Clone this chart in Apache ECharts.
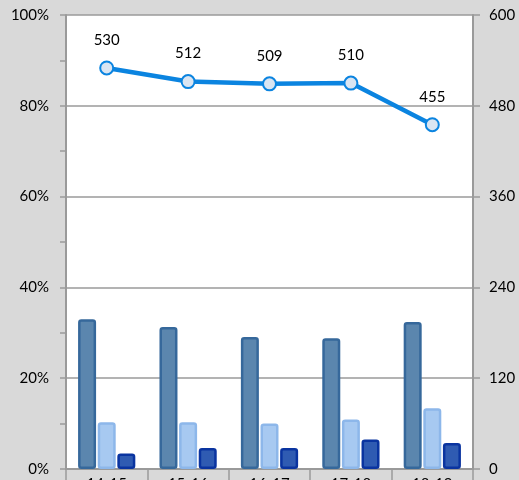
<!DOCTYPE html>
<html><head><meta charset="utf-8">
<style>html,body{margin:0;padding:0;background:#d9d9d9;}#c{width:519px;height:480px;}</style>
<script src="https://cdn.jsdelivr.net/npm/echarts@6/dist/echarts.min.js"></script>
</head><body><div id="c"></div>
<script>
const categories = ['14-15','15-16','16-17','17-18','18-19'];
const seriesA = [33.0, 31.3, 29.1, 28.8, 32.4];
const seriesB = [10.3, 10.3, 10.0, 10.9, 13.4];
const seriesC = [3.4, 4.6, 4.6, 6.5, 5.7];
const lineValues = [530, 512, 509, 510, 455];

const FONT = 'Lato';
const chart = echarts.init(document.getElementById('c'), null, {renderer:'canvas'});
const axisGray = '#9a9a9a';
function bar(name, data, fill, border) {
  return {name, type:'bar', yAxisIndex:0, data, barWidth:18, barGap:'9%',
    itemStyle:{color:fill, borderColor:border, borderWidth:2.5, borderRadius:2}, z:2};
}
chart.setOption({
  backgroundColor:'#d9d9d9',
  animation:false,
  grid:{left:66, right:46, top:15, bottom:11, show:true, backgroundColor:'#ffffff', borderWidth:0,
    containLabel:false, outerBoundsMode:'none'},
  xAxis:{type:'category', data:categories, boundaryGap:true,
    axisLine:{lineStyle:{color:axisGray, width:2}},
    axisTick:{show:true, length:12, lineStyle:{color:axisGray, width:1.5}},
    axisLabel:{color:'#000', fontFamily:FONT, fontSize:15, margin:8}},
  yAxis:[{type:'value', min:0, max:100, interval:20, position:'left',
    axisLine:{show:true, lineStyle:{color:axisGray, width:2}},
    axisTick:{show:true, length:6, lineStyle:{color:axisGray, width:1.5}},
    minorTick:{show:true, splitNumber:2, length:6, lineStyle:{color:axisGray, width:1.5}},
    splitLine:{show:true, lineStyle:{color:axisGray, width:1.5}},
    axisLabel:{formatter:'{value}%', color:'#000', fontFamily:FONT, fontSize:15, margin:17}},
   {type:'value', min:0, max:600, interval:120, position:'right',
    axisLine:{show:true, lineStyle:{color:axisGray, width:2}},
    axisTick:{show:true, length:7, lineStyle:{color:axisGray, width:1.5}},
    splitLine:{show:false},
    axisLabel:{color:'#000', fontFamily:FONT, fontSize:15, margin:16}}],
  series:[
    bar('A', seriesA, '#5b86ae', '#36689b'),
    bar('B', seriesB, '#a7c9f1', '#8db7ea'),
    bar('C', seriesC, '#2f5bb2', '#0a34a0'),
    {name:'Line', type:'line', yAxisIndex:1, data:lineValues, z:5,
     lineStyle:{color:'#0b84e0', width:4.5},
     symbol:'circle', symbolSize:13,
     itemStyle:{color:'#dae5f2', borderColor:'#0b84e0', borderWidth:2},
     label:{show:true, position:'top', distance:13, color:'#000', fontFamily:FONT, fontSize:15}}
  ]
});
</script></body></html>
